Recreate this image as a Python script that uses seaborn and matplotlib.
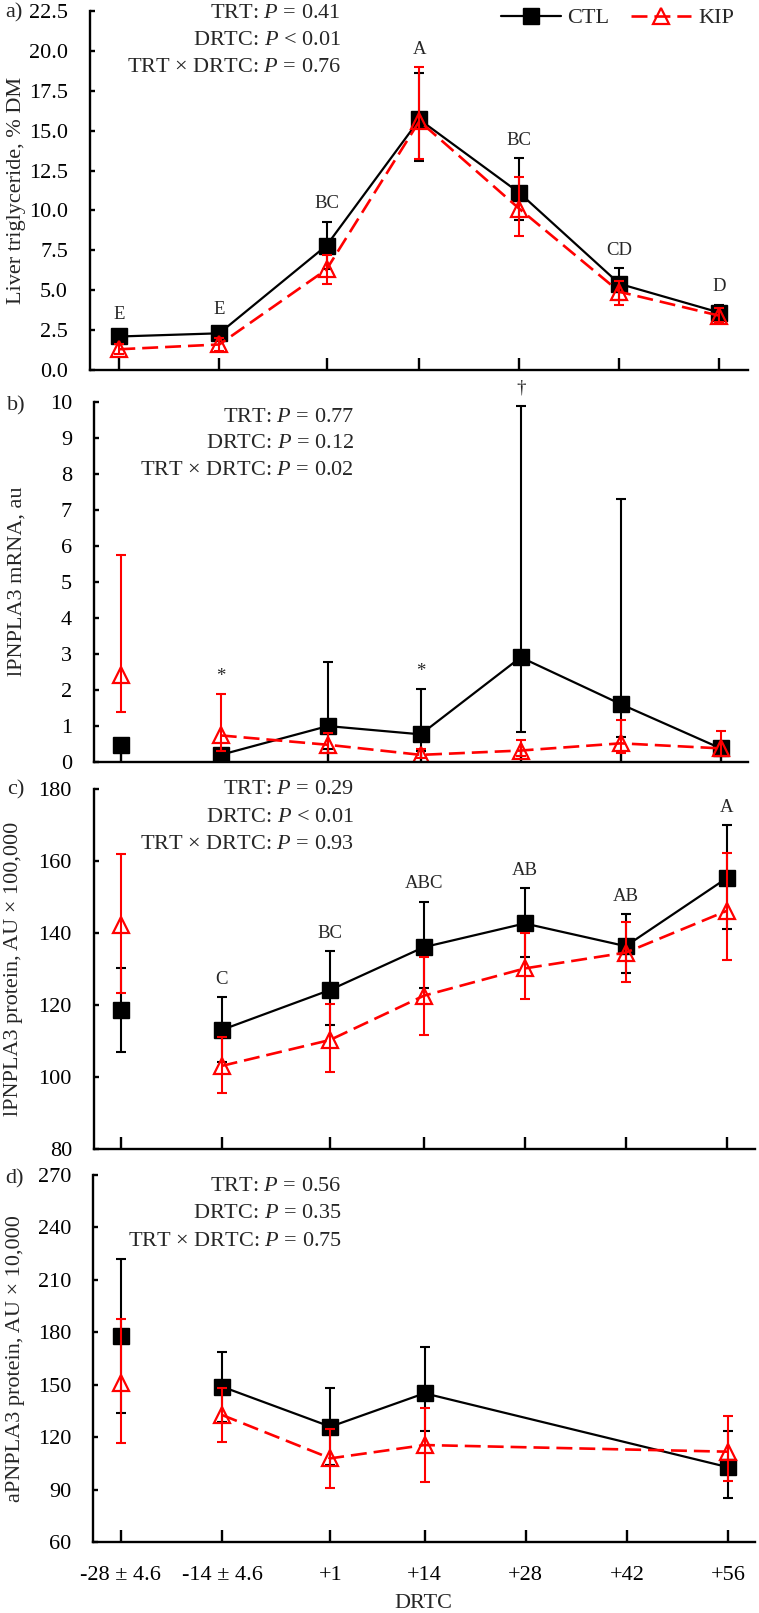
import numpy as np
import pandas as pd
import matplotlib
matplotlib.use("Agg")
import matplotlib.pyplot as plt
from matplotlib.lines import Line2D
import seaborn as sns

sns.set_theme(style="ticks")
plt.rcParams["font.family"] = ["Liberation Serif", "DejaVu Serif"]
plt.rcParams["mathtext.fontset"] = "custom"
plt.rcParams["mathtext.rm"] = "Liberation Serif"
plt.rcParams["mathtext.it"] = "Liberation Serif:italic"
plt.rcParams["lines.scale_dashes"] = False

# --- Daten ---
days = [-28, -14, 1, 14, 28, 42, 56]
day_labels = ["-28 ± 4.6", "-14 ± 4.6", "+1", "+14", "+28", "+42", "+56"]
nan = np.nan

# a) Leber-Triglyceride
tg_ctl = [2.1, 2.3, 7.8, 15.7, 11.1, 5.4, 3.6]
tg_ctl_hi = [2.4, 2.7, 9.3, 18.6, 13.3, 6.4, 4.1]
tg_ctl_lo = [1.8, 1.9, 6.3, 13.1, 9.4, 4.4, 3.1]
tg_kip = [1.3, 1.6, 6.3, 15.6, 10.1, 4.9, 3.4]
tg_kip_hi = [1.6, 2.0, 7.2, 19.0, 12.1, 5.6, 3.9]
tg_kip_lo = [1.0, 1.2, 5.4, 13.2, 8.4, 4.1, 3.0]
tg_letters = ["E", "E", "BC", "A", "BC", "CD", "D"]
tg_stats = ["TRT: $P$ = 0.41", "DRTC: $P$ < 0.01", "TRT × DRTC: $P$ = 0.76"]

# b) lPNPLA3 mRNA
mr_ctl = [0.46, 0.19, 0.99, 0.76, 2.9, 1.6, 0.37]
mr_ctl_hi = [0.6, 0.3, 2.78, 2.01, 9.88, 7.3, 0.5]
mr_ctl_lo = [0.35, 0.1, 0.35, 0.3, 0.82, 0.69, 0.25]
mr_kip = [2.41, 0.73, 0.47, 0.19, 0.31, 0.51, 0.37]
mr_kip_hi = [5.74, 1.87, 0.8, 0.35, 0.6, 1.16, 0.85]
mr_kip_lo = [1.37, 0.3, 0.25, 0.1, 0.15, 0.25, 0.17]
mr_letters = ["", "*", "", "*", "†", "", ""]
mr_stats = ["TRT: $P$ = 0.77", "DRTC: $P$ = 0.12", "TRT × DRTC: $P$ = 0.02"]

# c) lPNPLA3 Protein
lp_ctl = [118.6, 113.1, 124.2, 136.1, 142.7, 136.4, 155.3]
lp_ctl_hi = [130.4, 122.3, 135.0, 148.8, 152.5, 145.2, 170.1]
lp_ctl_lo = [107.0, 104.3, 114.5, 124.8, 133.3, 128.8, 141.2]
lp_kip = [142.3, 103.1, 110.3, 122.6, 130.2, 134.6, 146.2]
lp_kip_hi = [161.9, 111.0, 120.3, 133.5, 140.0, 143.0, 162.4]
lp_kip_lo = [123.3, 95.5, 101.5, 111.7, 121.6, 126.5, 132.5]
lp_letters = ["", "C", "BC", "ABC", "AB", "AB", "A"]
lp_stats = ["TRT: $P$ = 0.29", "DRTC: $P$ < 0.01", "TRT × DRTC: $P$ = 0.93"]

# d) aPNPLA3 Protein
ap_ctl = [177.9, 149.0, 126.1, 145.2, nan, nan, 102.9]
ap_ctl_hi = [221.8, 169.0, 148.4, 171.8, nan, nan, 123.8]
ap_ctl_lo = [134.1, 129.0, 104.0, 123.6, nan, nan, 85.5]
ap_kip = [150.9, 132.8, 108.0, 115.6, nan, nan, 111.8]
ap_kip_hi = [187.5, 148.0, 125.0, 136.9, nan, nan, 132.2]
ap_kip_lo = [116.6, 117.5, 90.9, 94.3, nan, nan, 95.2]
ap_letters = [""] * 7
ap_stats = ["TRT: $P$ = 0.56", "DRTC: $P$ = 0.35", "TRT × DRTC: $P$ = 0.75"]

# --- Layout (Pixel) ---
W, H = 759, 1613
FS = 16

def fx(px):
    return px / W

def fy(py):
    return 1 - py / H

panels = [
    dict(tag="a)", left=89.5, right=748, top=11, bottom=370, xlim=(-32.17, 59.99),
         ylim=(0, 22.5), step=2.5, fmt="{:.1f}", ylabel="Liver triglyceride, % DM", ylab_x=17,
         ctl=(tg_ctl, tg_ctl_lo, tg_ctl_hi), kip=(tg_kip, tg_kip_lo, tg_kip_hi),
         letters=tg_letters, stats=tg_stats, stats_x=341, stats_y=[18.3, 45, 71.7],
         tag_y=17.5, tag_x=5, split=False),
    dict(tag="b)", left=93.5, right=748, top=401.7, bottom=761.7, xlim=(-31.81, 59.82),
         ylim=(0, 10), step=1, fmt="{:.0f}", ylabel="lPNPLA3 mRNA, au", ylab_x=17.5,
         ctl=(mr_ctl, mr_ctl_lo, mr_ctl_hi), kip=(mr_kip, mr_kip_lo, mr_kip_hi),
         letters=mr_letters, stats=mr_stats, stats_x=354, stats_y=[421.7, 448.3, 475],
         tag_y=410.7, tag_x=6.7, split=True),
    dict(tag="c)", left=93.5, right=755, top=789.3, bottom=1149, xlim=(-31.77, 59.92),
         ylim=(80, 180), step=20, fmt="{:.0f}", ylabel="lPNPLA3 protein, AU × 100,000", ylab_x=13.5,
         ctl=(lp_ctl, lp_ctl_lo, lp_ctl_hi), kip=(lp_kip, lp_kip_lo, lp_kip_hi),
         letters=lp_letters, stats=lp_stats, stats_x=354, stats_y=[794.3, 822.3, 849],
         tag_y=794.3, tag_x=6.7, split=True),
    dict(tag="d)", left=92.7, right=755, top=1175, bottom=1542.3, xlim=(-31.87, 59.69),
         ylim=(60, 270), step=30, fmt="{:.0f}", ylabel="aPNPLA3 protein, AU × 10,000", ylab_x=15.5,
         ctl=(ap_ctl, ap_ctl_lo, ap_ctl_hi), kip=(ap_kip, ap_kip_lo, ap_kip_hi),
         letters=ap_letters, stats=ap_stats, stats_x=341.7, stats_y=[1191, 1218.3, 1245.7],
         tag_y=1183.3, tag_x=5, split=True),
]

ctl_style = dict(color="black", lw=1.6, marker="s", markersize=11.5,
                 markerfacecolor="black", markeredgecolor="black", markeredgewidth=1.0)
kip_style = dict(color="red", lw=1.9, linestyle=(0, (11.5, 5)), marker="^", markersize=11.5,
                 markerfacecolor="none", markeredgecolor="red", markeredgewidth=1.6)
err_kw = dict(fmt="none", elinewidth=1.5, capsize=3.6, capthick=1.5)

fig = plt.figure(figsize=(W / 100, H / 100), dpi=100)

for i, p in enumerate(panels):
    ax = fig.add_axes([fx(p["left"]), fy(p["bottom"]),
                       fx(p["right"]) - fx(p["left"]), (p["bottom"] - p["top"]) / H])
    for series, style, col in [(p["ctl"], ctl_style, "black"), (p["kip"], kip_style, "red")]:
        mean, lo, hi = (np.array(s, dtype=float) for s in series)
        df = pd.DataFrame({"day": days, "val": mean})
        df["seg"] = 1
        if p["split"]:
            df.loc[0, "seg"] = 0
        ax.errorbar(days, mean, yerr=[mean - lo, hi - mean], ecolor=col, **err_kw)
        sns.lineplot(data=df, x="day", y="val", units="seg", estimator=None,
                     ax=ax, legend=False, **style)

    # Buchstaben / Signifikanz über den Fehlerbalken
    tops = np.fmax(np.array(p["ctl"][2], dtype=float), np.array(p["kip"][2], dtype=float))
    for d, t, lab in zip(days, tops, p["letters"]):
        if lab:
            ax.annotate(lab, (d, t), xytext=(0, 9.5), textcoords="offset points",
                        ha="center", va="baseline", fontsize=13.5)

    ax.set_xlim(p["xlim"])
    ax.set_ylim(p["ylim"])
    yt = np.arange(p["ylim"][0], p["ylim"][1] + p["step"] / 2, p["step"])
    ax.set_yticks(yt)
    ax.set_yticklabels([p["fmt"].format(v) for v in yt])
    ax.set_xticks(days)
    if i == len(panels) - 1:
        ax.set_xticklabels(day_labels)
        ax.set_xlabel("DRTC", fontsize=FS, va="baseline")
        ax.xaxis.set_label_coords(0.5, -(1608.3 - p["bottom"]) / (p["bottom"] - p["top"]))
    else:
        ax.set_xticklabels([])
        ax.set_xlabel("")
    ax.set_ylabel(p["ylabel"], fontsize=FS, va="center")
    ax.yaxis.set_label_coords((p["ylab_x"] - p["left"]) / (p["right"] - p["left"]), 0.5)

    for s in ["top", "right"]:
        ax.spines[s].set_visible(False)
    for s in ["left", "bottom"]:
        ax.spines[s].set_linewidth(1.7)
        ax.spines[s].set_color("black")
    ax.tick_params(axis="y", direction="in", length=3.6, width=1.7, pad=15.5,
                   labelsize=FS, colors="black")
    ax.tick_params(axis="x", direction="in", length=8.4, width=1.7, pad=17,
                   labelsize=FS, colors="black")
    ax.set_facecolor("white")

    fig.text(fx(p["tag_x"]), fy(p["tag_y"]), p["tag"], fontsize=FS, ha="left", va="baseline")
    for txt, yy in zip(p["stats"], p["stats_y"]):
        fig.text(fx(p["stats_x"]), fy(yy), txt, fontsize=FS, ha="right", va="baseline")

handles = [Line2D([], [], **ctl_style), Line2D([], [], **kip_style)]
fig.legend(handles, ["CTL", "KIP"], loc="center right", bbox_to_anchor=(fx(734), fy(18)),
           ncol=2, frameon=False, fontsize=FS, handlelength=2.7, handletextpad=0.3,
           columnspacing=1.0, borderpad=0, borderaxespad=0)

fig.savefig("out.png", dpi=100, facecolor="white")
